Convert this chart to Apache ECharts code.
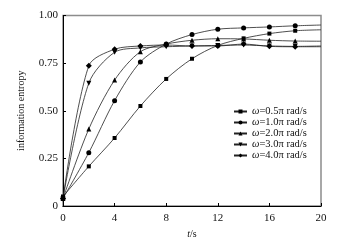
<!DOCTYPE html>
<html>
<head>
<meta charset="utf-8">
<script src="https://cdn.jsdelivr.net/npm/echarts@6/dist/echarts.min.js"></script>
<style>
  html, body { margin: 0; padding: 0; background: #fff; }
  #chart { width: 349px; height: 244px; }
</style>
</head>
<body>
<div id="chart"></div>
<script>
  // time samples (s); markers drawn every 2 s, last point has no marker
  const times = [0, 2, 4, 6, 8, 10, 12, 14, 16, 18, 20];
  const w05 = [0.05, 0.208, 0.357, 0.525, 0.667, 0.773, 0.843, 0.88, 0.905, 0.92, 0.925];
  const w10 = [0.04, 0.28, 0.553, 0.756, 0.85, 0.90, 0.928, 0.935, 0.94, 0.946, 0.95];
  const w20 = [0.04, 0.404, 0.661, 0.81, 0.85, 0.87, 0.878, 0.877, 0.87, 0.866, 0.865];
  const w30 = [0.04, 0.645, 0.807, 0.83, 0.836, 0.84, 0.843, 0.845, 0.84, 0.838, 0.84];
  const w40 = [0.04, 0.736, 0.823, 0.84, 0.845, 0.84, 0.84, 0.85, 0.838, 0.836, 0.836];
  const names = ['0.5π rad/s', '1.0π rad/s', '2.0π rad/s', '3.0π rad/s', '4.0π rad/s'];
  const yTicks = ['0', '0.25', '0.50', '0.75', '1.00'];

  const symbols = ['rect', 'circle', 'triangle', 'triangle', 'diamond'];
  const rotates = [0, 0, 0, 180, 0];
  const sizes = [4, 5, 5, 5, 6];

  function pts(vals) {
    return vals.map((v, i) => {
      if (i === vals.length - 1) return { value: [times[i], v], symbol: 'none' };
      return [times[i], v];
    });
  }

  const chart = echarts.init(document.getElementById('chart'));
  const font = 'Liberation Serif';

  chart.setOption({
    animation: false,
    grid: {
      left: 63, right: 28, top: 15.5, bottom: 38,
      show: true, borderColor: '#8c8c8c', borderWidth: 1.5
    },
    legend: {
      orient: 'vertical',
      left: 228, top: 101,
      itemWidth: 13, itemHeight: 5, itemGap: 0,
      data: names,
      formatter: n => '{i|ω}=' + n,
      textStyle: {
        fontFamily: font, fontSize: 10.5, color: '#111', lineHeight: 7.6,
        rich: { i: { fontStyle: 'italic', fontFamily: font, fontSize: 10.5, lineHeight: 7.6 } }
      }
    },
    xAxis: {
      type: 'value', min: 0, max: 20, interval: 4,
      name: '{i|t}/s', nameLocation: 'middle', nameGap: 21,
      nameTextStyle: {
        fontFamily: font, fontSize: 10, color: '#111',
        rich: { i: { fontStyle: 'italic', fontFamily: font, fontSize: 10 } }
      },
      axisLine: { lineStyle: { color: '#000', width: 1 } },
      axisTick: { inside: true, length: 3, lineStyle: { color: '#000' } },
      axisLabel: { fontFamily: font, fontSize: 11, color: '#111', margin: 7 },
      splitLine: { show: false }
    },
    yAxis: {
      type: 'value', min: 0, max: 1, interval: 0.25,
      name: 'information entropy', nameLocation: 'middle', nameGap: 37,
      nameTextStyle: { fontFamily: font, fontSize: 10, color: '#111' },
      axisLine: { show: true, lineStyle: { color: '#000', width: 1 } },
      axisTick: { show: true, inside: true, length: 3, lineStyle: { color: '#000' } },
      axisLabel: {
        fontFamily: font, fontSize: 11, color: '#111', margin: 5,
        formatter: v => yTicks[Math.round(v / 0.25)]
      },
      splitLine: { show: false }
    },
    series: [w05, w10, w20, w30, w40].map((vals, k) => ({
      name: names[k],
      type: 'line',
      data: pts(vals),
      smooth: 0.3,
      symbol: symbols[k],
      symbolRotate: rotates[k],
      symbolSize: sizes[k],
      showAllSymbol: true,
      lineStyle: { color: '#222', width: 0.8 },
      itemStyle: { color: '#000' }
    }))
  });
</script>
</body>
</html>
